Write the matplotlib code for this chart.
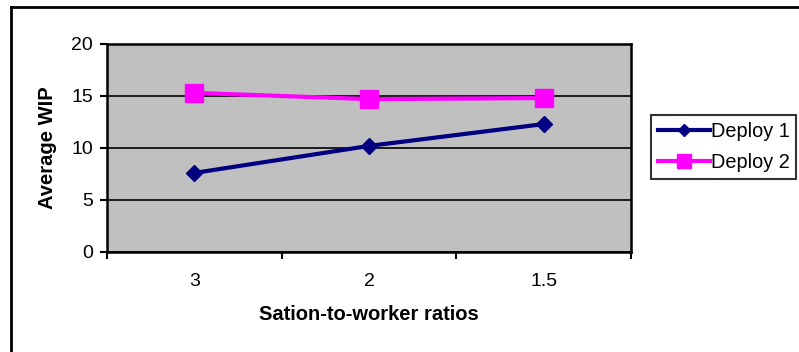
import matplotlib
matplotlib.use("Agg")
import matplotlib.pyplot as plt
from matplotlib.lines import Line2D

plt.rcParams['font.family'] = ['Liberation Sans', 'DejaVu Sans']

# Data
categories = ["3", "2", "1.5"]
deploy1 = [7.6, 10.2, 12.3]
deploy2 = [15.3, 14.7, 14.8]
y_ticks = [0, 5, 10, 15, 20]

W, H = 799, 352
fig = plt.figure(figsize=(W / 100, H / 100), dpi=100)

# Chart-area border (left and top edges visible)
fig.add_artist(Line2D([10.5 / W, 10.5 / W], [0, 1 - 7 / H], transform=fig.transFigure,
                      color='black', lw=2.0, solid_capstyle='projecting'))
fig.add_artist(Line2D([10.5 / W, 1.0], [1 - 7 / H, 1 - 7 / H], transform=fig.transFigure,
                      color='black', lw=2.0, solid_capstyle='projecting'))

ax = fig.add_axes([107 / W, 1 - 252 / H, (631 - 107) / W, (252 - 44) / H])
ax.set_facecolor('#C0C0C0')

x = list(range(len(categories)))
ax.plot(x, deploy1, color='#000080', lw=3, marker='D', markersize=8.5,
        label='Deploy 1', zorder=3)
ax.plot(x, deploy2, color='#FF00FF', lw=3, marker='s', markersize=13,
        label='Deploy 2', zorder=3)

ax.set_xlim(-0.5, len(categories) - 0.5)
ax.set_ylim(0, 20)
ax.set_yticks(y_ticks)
ax.set_yticklabels([str(v) for v in y_ticks], fontsize=14)
ax.set_xticks(x)
ax.set_xticklabels(categories, fontsize=14)
ax.tick_params(axis='x', which='major', length=0, pad=15)
ax.set_xticks([i - 0.5 for i in range(len(categories) + 1)], minor=True)
ax.tick_params(axis='x', which='minor', length=5, width=1.5, direction='out')
ax.tick_params(axis='y', length=5, width=1.5, direction='out', pad=5)

ax.yaxis.grid(True, color='black', lw=1.2)
ax.set_axisbelow(True)
for s in ax.spines.values():
    s.set_color('black')
    s.set_linewidth(1.8)

ax.set_ylabel('Average WIP', fontsize=14.5, fontweight='bold', labelpad=10)
ax.set_xlabel('Sation-to-worker ratios', fontsize=14.5, fontweight='bold', labelpad=11)

leg = fig.legend(loc='upper left', bbox_to_anchor=(651 / W, 1 - 115 / H),
                 fontsize=14.3, frameon=True, fancybox=False, borderpad=0.35,
                 handlelength=2.6, handletextpad=0.05, labelspacing=0.6,
                 borderaxespad=0)
leg.get_frame().set_edgecolor('black')
leg.get_frame().set_linewidth(1.5)
for h, ms in zip(leg.legend_handles, [6.5, 9.5]):
    h.set_markersize(ms)

fig.savefig('out.png', dpi=100)
